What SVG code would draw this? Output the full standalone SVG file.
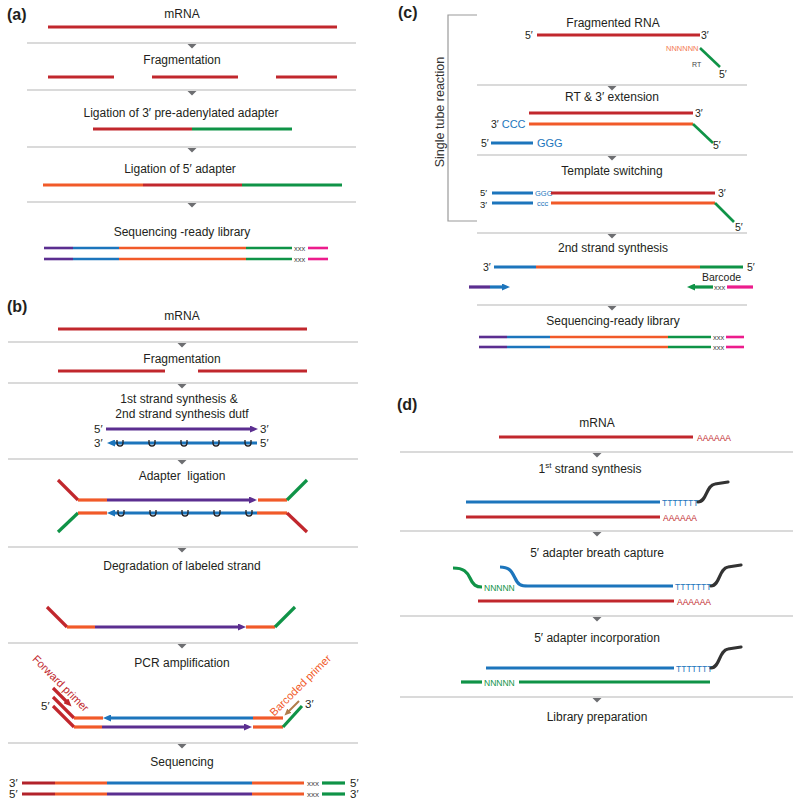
<svg xmlns="http://www.w3.org/2000/svg" xmlns:xlink="http://www.w3.org/1999/xlink" width="800" height="806" viewBox="0 0 800 806">
<style>
text{font-family:"Liberation Sans",Arial,Helvetica,sans-serif;fill:#231f20}
.t{font-size:12px;text-anchor:middle}
.lbl{font-size:16px;font-weight:bold}
.p{font-size:11.5px}
.x{font-size:7.5px;fill:#444}
.sm{font-size:8.5px}
.sep{stroke:#b5b5b5;stroke-width:1.1}
.tri{fill:#6d6e71}
.s{stroke-width:3.2;fill:none}
.lib{stroke-width:2.6}
.r{stroke:#c1272d}.dr{stroke:#b2222a}.o{stroke:#f15a29}.g{stroke:#0f9347}.b{stroke:#1c75bc}.pu{stroke:#5b2e90}.pk{stroke:#ec1c8c}.dk{stroke:#333;stroke-linecap:round}.br{stroke:#b07c4a;stroke-width:2}
.um{fill:none;stroke:#231f20;stroke-width:1.3}
.brk{fill:none;stroke:#9a9a9a;stroke-width:1.2}
</style>
<defs>
<marker id="ah-pu" markerUnits="userSpaceOnUse" markerWidth="8" markerHeight="7" refX="3" refY="3.5" orient="auto"><path d="M0,0 L8,3.5 L0,7 z" fill="#5b2e90"/></marker>
<marker id="ah-b" markerUnits="userSpaceOnUse" markerWidth="8" markerHeight="7" refX="3" refY="3.5" orient="auto"><path d="M0,0 L8,3.5 L0,7 z" fill="#1c75bc"/></marker>
<marker id="ah-g" markerUnits="userSpaceOnUse" markerWidth="8" markerHeight="7" refX="3" refY="3.5" orient="auto"><path d="M0,0 L8,3.5 L0,7 z" fill="#0f9347"/></marker>
<marker id="ah-r" markerUnits="userSpaceOnUse" markerWidth="8" markerHeight="7" refX="3" refY="3.5" orient="auto"><path d="M0,0 L8,3.5 L0,7 z" fill="#c1272d"/></marker>
<marker id="ah-br" markerUnits="userSpaceOnUse" markerWidth="7" markerHeight="6" refX="2" refY="3" orient="auto"><path d="M0,0 L7,3 L0,6 z" fill="#b07c4a"/></marker>
<path id="u" class="um" d="M-3,-3 v3 a3,3 0 0 0 6,0 v-3"/>
<polygon id="tri" class="tri" points="-4.5,1 4.5,1 0,5.5"/>
</defs>

<!-- connectors: step separators with arrow triangles -->
<g id="connectors">
<line class="sep" x1="27" y1="43" x2="356" y2="43"/><use href="#tri" x="192" y="43"/>
<line class="sep" x1="27" y1="90" x2="356" y2="90"/><use href="#tri" x="192" y="90"/>
<line class="sep" x1="27" y1="147" x2="356" y2="147"/><use href="#tri" x="192" y="147"/>
<line class="sep" x1="27" y1="202" x2="356" y2="202"/><use href="#tri" x="192" y="202"/>

<line class="sep" x1="8" y1="342" x2="358" y2="342"/><use href="#tri" x="182" y="342"/>
<line class="sep" x1="8" y1="383" x2="358" y2="383"/><use href="#tri" x="182" y="383"/>
<line class="sep" x1="8" y1="459" x2="358" y2="459"/><use href="#tri" x="182" y="459"/>
<line class="sep" x1="8" y1="547" x2="358" y2="547"/><use href="#tri" x="182" y="547"/>
<line class="sep" x1="8" y1="643" x2="358" y2="643"/><use href="#tri" x="182" y="643"/>
<line class="sep" x1="8" y1="743" x2="358" y2="743"/><use href="#tri" x="182" y="743"/>

<line class="sep" x1="477" y1="85" x2="747" y2="85"/><use href="#tri" x="612" y="85"/>
<line class="sep" x1="477" y1="155" x2="747" y2="155"/><use href="#tri" x="612" y="155"/>
<line class="sep" x1="477" y1="233" x2="747" y2="233"/><use href="#tri" x="612" y="233"/>
<line class="sep" x1="477" y1="305" x2="747" y2="305"/><use href="#tri" x="612" y="305"/>

<line class="sep" x1="400" y1="452" x2="793" y2="452"/><use href="#tri" x="597" y="452"/>
<line class="sep" x1="400" y1="531" x2="793" y2="531"/><use href="#tri" x="597" y="531"/>
<line class="sep" x1="400" y1="616" x2="793" y2="616"/><use href="#tri" x="597" y="616"/>
<line class="sep" x1="400" y1="697" x2="793" y2="697"/><use href="#tri" x="597" y="697"/>
</g>

<!-- Panel a -->
<g id="a-label"><text class="lbl" x="7" y="20">(a)</text></g>
<g id="a-mrna"><text class="t" x="182" y="18">mRNA</text>
<line class="s r" x1="48" y1="27" x2="337" y2="27"/></g>
<g id="a-frag"><text class="t" x="182" y="64">Fragmentation</text>
<line class="s r" x1="48" y1="77" x2="114" y2="77"/>
<line class="s r" x1="152" y1="77" x2="238" y2="77"/>
<line class="s r" x1="276" y1="77" x2="337" y2="77"/></g>
<g id="a-lig3"><text class="t" x="181" y="117">Ligation of 3′ pre-adenylated adapter</text>
<line class="s r" x1="93" y1="129" x2="192" y2="129"/>
<line class="s g" x1="192" y1="129" x2="292" y2="129"/></g>
<g id="a-lig5"><text class="t" x="180" y="173">Ligation of 5′ adapter</text>
<line class="s o" x1="43" y1="185" x2="143" y2="185"/>
<line class="s r" x1="143" y1="185" x2="242" y2="185"/>
<line class="s g" x1="242" y1="185" x2="342" y2="185"/></g>
<g id="a-lib"><text class="t" x="182" y="236">Sequencing -ready library</text>
<line class="s lib pu" x1="44" y1="248" x2="73" y2="248"/>
<line class="s lib b" x1="73" y1="248" x2="119" y2="248"/>
<line class="s lib o" x1="119" y1="248" x2="246" y2="248"/>
<line class="s lib g" x1="246" y1="248" x2="292" y2="248"/>
<text class="x" x="294" y="250.5">xxx</text>
<line class="s lib pk" x1="308" y1="248" x2="328" y2="248"/>
<line class="s lib pu" x1="44" y1="259" x2="73" y2="259"/>
<line class="s lib b" x1="73" y1="259" x2="119" y2="259"/>
<line class="s lib o" x1="119" y1="259" x2="246" y2="259"/>
<line class="s lib g" x1="246" y1="259" x2="292" y2="259"/>
<text class="x" x="294" y="261.5">xxx</text>
<line class="s lib pk" x1="308" y1="259" x2="328" y2="259"/></g>

<!-- Panel b -->
<g id="b-label"><text class="lbl" x="7" y="312">(b)</text></g>
<g id="b-mrna"><text class="t" x="182" y="320">mRNA</text>
<line class="s r" x1="58" y1="329" x2="307" y2="329"/></g>
<g id="b-frag"><text class="t" x="182" y="363">Fragmentation</text>
<line class="s r" x1="58" y1="371" x2="165" y2="371"/>
<line class="s r" x1="198" y1="371" x2="307" y2="371"/></g>
<g id="b-synth"><text class="t" x="179" y="403">1st strand synthesis &amp;</text>
<text class="t" x="182" y="418">2nd strand synthesis dutf</text>
<text class="p" x="94" y="433">5′</text><text class="p" x="260" y="433">3′</text>
<line class="s pu" x1="106" y1="429" x2="253" y2="429" marker-end="url(#ah-pu)"/>
<text class="p" x="94" y="447">3′</text><text class="p" x="260" y="447">5′</text>
<line class="s b" x1="257" y1="443" x2="112" y2="443" marker-end="url(#ah-b)"/>
<use href="#u" x="120" y="443"/><use href="#u" x="152" y="443"/><use href="#u" x="184" y="443"/><use href="#u" x="216" y="443"/><use href="#u" x="248" y="443"/></g>
<g id="b-adapter"><text class="t" x="182" y="480" xml:space="preserve">Adapter  ligation</text>
<line class="s r" x1="58" y1="480" x2="78" y2="500"/>
<line class="s o" x1="78" y1="500" x2="107" y2="500"/>
<line class="s pu" x1="107" y1="500" x2="252" y2="500" marker-end="url(#ah-pu)"/>
<line class="s o" x1="258" y1="500" x2="287" y2="500"/>
<line class="s g" x1="287" y1="500" x2="307" y2="480"/>
<line class="s g" x1="58" y1="532" x2="78" y2="513"/>
<line class="s o" x1="78" y1="513" x2="107" y2="513"/>
<line class="s b" x1="257" y1="513" x2="112" y2="513" marker-end="url(#ah-b)"/>
<line class="s o" x1="257" y1="513" x2="287" y2="513"/>
<line class="s r" x1="287" y1="513" x2="307" y2="532"/>
<use href="#u" x="121" y="513"/><use href="#u" x="153" y="513"/><use href="#u" x="185" y="513"/><use href="#u" x="217" y="513"/><use href="#u" x="249" y="513"/></g>
<g id="b-degrade"><text class="t" x="182" y="570">Degradation of labeled strand</text>
<line class="s r" x1="47" y1="607" x2="67" y2="627"/>
<line class="s o" x1="67" y1="627" x2="95" y2="627"/>
<line class="s pu" x1="95" y1="627" x2="241" y2="627" marker-end="url(#ah-pu)"/>
<line class="s o" x1="246" y1="627" x2="275" y2="627"/>
<line class="s g" x1="275" y1="627" x2="295" y2="607"/></g>
<g id="b-pcr"><text class="t" x="182" y="667">PCR amplification</text>
<text class="p" x="58" y="686" transform="rotate(45 58 686)" text-anchor="middle" style="fill:#c1272d;font-size:11px">Forward primer</text>
<text class="p" x="303" y="688" transform="rotate(-45 303 688)" text-anchor="middle" style="fill:#f15a29;font-size:11px">Barcoded primer</text>
<text class="p" x="41" y="710">5′</text>
<text class="p" x="305" y="708">3′</text>
<line class="s r" x1="53" y1="688" x2="68" y2="703" marker-end="url(#ah-r)"/>
<line class="s r" x1="53" y1="697" x2="74" y2="718"/>
<line class="s r" x1="53" y1="706" x2="74" y2="727"/>
<line class="s o" x1="74" y1="718" x2="103" y2="718"/>
<line class="s b" x1="253" y1="718" x2="108" y2="718" marker-end="url(#ah-b)"/>
<line class="s o" x1="253" y1="718" x2="283" y2="718"/>
<line class="s o" x1="74" y1="727" x2="102" y2="727"/>
<line class="s pu" x1="102" y1="727" x2="247" y2="727" marker-end="url(#ah-pu)"/>
<line class="s o" x1="253" y1="727" x2="283" y2="727"/>
<line class="s g" x1="283" y1="727" x2="302" y2="706"/>
<line class="br" x1="299" y1="701" x2="288" y2="712" marker-end="url(#ah-br)"/></g>
<g id="b-seq"><text class="t" x="182" y="766">Sequencing</text>
<text class="p" x="9" y="787">3′</text>
<line class="s dr" x1="22" y1="783" x2="55" y2="783"/>
<line class="s o" x1="55" y1="783" x2="107" y2="783"/>
<line class="s b" x1="107" y1="783" x2="252" y2="783"/>
<line class="s o" x1="252" y1="783" x2="304" y2="783"/>
<text class="x" x="307" y="786" style="font-size:8px">xxx</text>
<line class="s g" x1="322" y1="783" x2="345" y2="783"/>
<text class="p" x="350" y="787">5′</text>
<text class="p" x="9" y="798">5′</text>
<line class="s dr" x1="22" y1="794" x2="55" y2="794"/>
<line class="s o" x1="55" y1="794" x2="107" y2="794"/>
<line class="s pu" x1="107" y1="794" x2="252" y2="794"/>
<line class="s o" x1="252" y1="794" x2="304" y2="794"/>
<text class="x" x="307" y="797" style="font-size:8px">xxx</text>
<line class="s g" x1="322" y1="794" x2="345" y2="794"/>
<text class="p" x="350" y="798">3′</text></g>

<!-- Panel c -->
<g id="c-label"><text class="lbl" x="398" y="18">(c)</text></g>
<g id="c-bracket"><path class="brk" d="M477,15 H448 V221 H477"/>
<text x="444" y="112" transform="rotate(-90 444 112)" text-anchor="middle" style="font-size:12.5px;fill:#333">Single tube reaction</text></g>
<g id="c-frag"><text class="t" x="613" y="27">Fragmented RNA</text>
<text class="p" x="525" y="39" style="font-size:10.5px">5′</text>
<line class="s r" x1="537" y1="35" x2="700" y2="35"/>
<text class="p" x="701" y="39" style="font-size:10.5px">3′</text>
<text x="666" y="51" style="font-size:7.5px;fill:#f47b52">NNNNNN</text>
<line class="s g" x1="700" y1="48" x2="720" y2="67" style="stroke-width:2.6"/>
<text x="692" y="67" style="font-size:7px;fill:#444">RT</text>
<text class="p" x="719" y="78" style="font-size:10.5px">5′</text></g>
<g id="c-rt"><text class="t" x="612" y="101">RT &amp; 3′ extension</text>
<line class="s r" x1="529" y1="113" x2="693" y2="113"/>
<text class="p" x="695" y="117" style="font-size:10.5px">3′</text>
<text class="p" x="491" y="128" style="font-size:10.5px">3′ <tspan style="fill:#1c75bc;font-size:11px">CCC</tspan></text>
<line class="s o" x1="529" y1="124" x2="693" y2="124"/>
<line class="s g" x1="693" y1="124" x2="713" y2="143" style="stroke-width:2.6"/>
<text class="p" x="713" y="149" style="font-size:10.5px">5′</text>
<text class="p" x="481" y="147" style="font-size:10.5px">5′</text>
<line class="s b" x1="491" y1="143" x2="533" y2="143"/>
<text x="537" y="147" style="font-size:11px;fill:#1c75bc">GGG</text></g>
<g id="c-switch"><text class="t" x="612" y="175">Template switching</text>
<text class="p" x="480" y="196" style="font-size:9.5px">5′</text>
<line class="s b" x1="492" y1="193" x2="533" y2="193"/>
<text x="535" y="196" style="font-size:7.5px;fill:#1c75bc">GGG</text>
<line class="s r" x1="551" y1="193" x2="715" y2="193"/>
<text class="p" x="718" y="197" style="font-size:10.5px">3′</text>
<text class="p" x="480" y="207.5" style="font-size:9.5px">3′</text>
<line class="s b" x1="492" y1="203" x2="533" y2="203"/>
<text x="537" y="206" style="font-size:7.5px;fill:#1c75bc">ccc</text>
<line class="s o" x1="551" y1="203" x2="715" y2="203"/>
<line class="s g" x1="715" y1="203" x2="734" y2="222" style="stroke-width:2.6"/>
<text class="p" x="735" y="231" style="font-size:10.5px">5′</text></g>
<g id="c-second"><text class="t" x="613" y="252">2nd strand synthesis</text>
<text class="p" x="483" y="271" style="font-size:10.5px">3′</text>
<line class="s b" x1="494" y1="267" x2="536" y2="267"/>
<line class="s o" x1="536" y1="267" x2="700" y2="267"/>
<line class="s g" x1="700" y1="267" x2="743" y2="267"/>
<text class="p" x="747" y="271" style="font-size:10.5px">5′</text>
<text x="702" y="281" style="font-size:10.5px">Barcode</text>
<line class="s pu" x1="469" y1="287" x2="490" y2="287"/>
<line class="s b" x1="490" y1="287" x2="505" y2="287" marker-end="url(#ah-b)"/>
<line class="s g" x1="713" y1="287" x2="692" y2="287" marker-end="url(#ah-g)"/>
<text class="x" x="714" y="289.5">xxx</text>
<line class="s pk" x1="727" y1="287" x2="753" y2="287"/></g>
<g id="c-lib"><text class="t" x="613" y="325">Sequencing-ready library</text>
<line class="s lib pu" x1="479" y1="337" x2="507" y2="337"/>
<line class="s lib b" x1="507" y1="337" x2="550" y2="337"/>
<line class="s lib o" x1="550" y1="337" x2="668" y2="337"/>
<line class="s lib g" x1="668" y1="337" x2="711" y2="337"/>
<text class="x" x="713" y="339.5">xxx</text>
<line class="s lib pk" x1="726" y1="337" x2="744" y2="337"/>
<line class="s lib pu" x1="479" y1="347" x2="507" y2="347"/>
<line class="s lib b" x1="507" y1="347" x2="550" y2="347"/>
<line class="s lib o" x1="550" y1="347" x2="668" y2="347"/>
<line class="s lib g" x1="668" y1="347" x2="711" y2="347"/>
<text class="x" x="713" y="349.5">xxx</text>
<line class="s lib pk" x1="726" y1="347" x2="744" y2="347"/></g>

<!-- Panel d -->
<g id="d-label"><text class="lbl" x="397" y="410">(d)</text></g>
<g id="d-mrna"><text class="t" x="597" y="427">mRNA</text>
<line class="s r" x1="499" y1="437" x2="693" y2="437"/>
<text class="sm" x="697" y="440.5" style="fill:#c1272d">AAAAAA</text></g>
<g id="d-first"><text class="t" x="590" y="473">1<tspan style="font-size:8px" dy="-5">st</tspan><tspan dy="5"> strand synthesis</tspan></text>
<line class="s b" x1="466" y1="502" x2="660" y2="502"/>
<text class="sm" x="662" y="505.5" style="fill:#1c75bc">TTTTTTT</text>
<path class="s dk" d="M698,502 C707,502 706,485 715,484 L728,482"/>
<line class="s r" x1="466" y1="517" x2="660" y2="517"/>
<text class="sm" x="663" y="520.5" style="fill:#c1272d">AAAAAA</text></g>
<g id="d-breath"><text class="t" x="597" y="557">5′ adapter breath capture</text>
<path class="s g" d="M453,568 C464,568 467,572 470,578 C473,585 476,587 482,587"/>
<text class="sm" x="484" y="590.5" style="fill:#0f9347">NNNNN</text>
<path class="s b" d="M500,567 C510,567 512,572 515,578 C518,585 521,586 528,586 L673,586"/>
<text class="sm" x="675" y="589.5" style="fill:#1c75bc">TTTTTTT</text>
<path class="s dk" d="M711,586 C720,586 719,568 728,567 L741,565"/>
<line class="s r" x1="478" y1="601" x2="674" y2="601"/>
<text class="sm" x="677" y="604.5" style="fill:#c1272d">AAAAAA</text></g>
<g id="d-incorp"><text class="t" x="597" y="642">5′ adapter incorporation</text>
<line class="s b" x1="486" y1="668" x2="674" y2="668"/>
<text class="sm" x="676" y="671.5" style="fill:#1c75bc">TTTTTTT</text>
<path class="s dk" d="M711,668 C720,668 719,650 728,649 L741,647"/>
<line class="s g" x1="461" y1="682" x2="482" y2="682"/>
<text class="sm" x="484" y="685.5" style="fill:#0f9347">NNNNN</text>
<line class="s g" x1="519" y1="682" x2="710" y2="682"/></g>
<g id="d-libprep"><text class="t" x="597" y="721">Library preparation</text></g>
</svg>
